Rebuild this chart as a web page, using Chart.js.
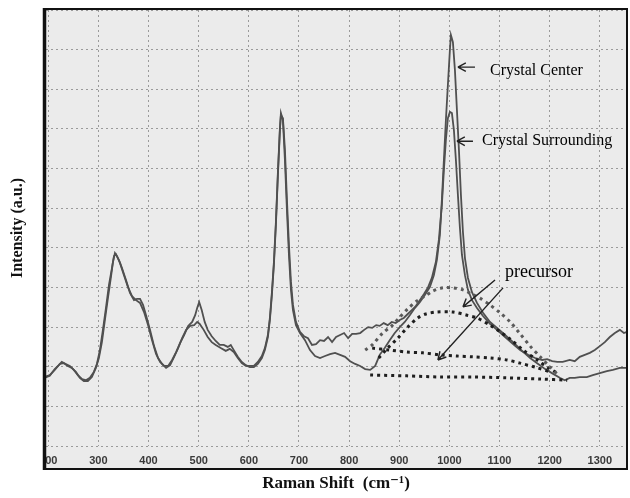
<!DOCTYPE html>
<html>
<head>
<meta charset="utf-8">
<script src="https://cdn.jsdelivr.net/npm/chart.js"></script>
<style>
  html, body { margin: 0; padding: 0; background: #fff; }
  #wrap { width: 630px; height: 498px; position: relative; }
</style>
</head>
<body>
<div id="wrap"><canvas id="raman"></canvas></div>
<script>
// Raman shift in cm-1, intensity in a.u. (one unit = one grid row)
const xTicks = [200, 300, 400, 500, 600, 700, 800, 900, 1000, 1100, 1200, 1300];

const centerShift = [193,203,213,223,231,239,247,255,263,271,279,287,295,301,307,313,319,325,329,333,337,343,351,359,367,375,383,391,399,407,415,423,431,439,447,455,463,471,479,487,493,497,501,506,512,518,526,534,542,550,558,564,570,578,586,594,602,610,618,626,632,638,642,646,650,654,658,662,664,668,672,676,680,684,688,694,702,712,722,732,742,752,762,772,782,792,802,812,822,832,842,852,861,871,881,891,901,911,921,931,941,951,961,969,975,981,985,989,993,997,1001,1003,1007,1011,1015,1019,1023,1027,1031,1037,1045,1055,1067,1081,1095,1111,1127,1145,1161,1177,1191,1207,1220,1230,1240,1250,1260,1274,1286,1300,1314,1326,1340,1354];
const centerIntensity = [1.74,1.79,1.92,2.07,2.09,2.02,1.97,1.87,1.72,1.64,1.64,1.74,1.97,2.22,2.62,3.18,3.73,4.26,4.64,4.87,4.79,4.62,4.31,4.01,3.78,3.68,3.61,3.38,3.05,2.67,2.32,2.12,2.02,2.02,2.17,2.37,2.60,2.80,3.03,3.13,3.30,3.48,3.63,3.43,3.13,2.93,2.77,2.65,2.55,2.55,2.50,2.55,2.42,2.25,2.12,2.04,1.99,1.99,2.07,2.22,2.42,2.75,3.18,3.81,4.57,5.58,6.84,7.97,8.40,8.22,7.21,5.95,4.82,3.94,3.43,3.05,2.85,2.67,2.42,2.27,2.22,2.27,2.32,2.35,2.30,2.25,2.14,2.07,2.02,1.94,1.92,2.02,2.30,2.47,2.67,2.85,3.00,3.13,3.30,3.48,3.63,3.81,4.01,4.31,4.69,5.32,6.21,7.21,8.22,9.11,9.99,10.37,10.19,9.49,8.48,7.47,6.33,5.40,4.74,4.24,3.88,3.61,3.36,3.13,2.98,2.80,2.62,2.40,2.22,2.07,1.94,1.82,1.72,1.66,1.72,1.72,1.74,1.74,1.79,1.84,1.89,1.92,1.97,1.97];

const surroundShift = [193,203,213,221,227,235,243,251,259,267,275,283,291,297,303,309,315,321,327,331,335,341,347,355,363,371,377,383,389,395,403,411,419,427,435,443,451,459,467,475,483,491,497,502,510,518,526,534,544,554,562,570,578,586,594,602,610,618,626,632,638,642,646,650,654,658,662,664,668,672,676,680,684,688,694,702,710,718,726,734,742,750,758,766,774,782,790,798,806,814,822,830,838,846,854,861,869,877,885,893,901,909,917,925,933,941,949,957,965,973,979,985,989,993,997,1001,1005,1009,1013,1017,1021,1025,1031,1037,1045,1055,1067,1081,1095,1111,1127,1141,1157,1171,1185,1195,1205,1215,1226,1240,1250,1260,1270,1280,1290,1300,1310,1320,1330,1340,1348,1354];
const surroundIntensity = [1.72,1.77,1.94,2.04,2.12,2.07,2.02,1.92,1.79,1.69,1.66,1.72,1.87,2.07,2.42,2.93,3.48,4.06,4.49,4.79,4.84,4.69,4.49,4.19,3.86,3.68,3.71,3.71,3.56,3.30,2.93,2.52,2.22,2.07,1.97,2.04,2.25,2.47,2.72,2.93,3.03,3.05,3.13,3.08,2.93,2.75,2.62,2.55,2.47,2.40,2.45,2.37,2.22,2.09,2.02,2.02,2.02,2.12,2.27,2.47,2.80,3.23,3.88,4.64,5.65,6.91,8.02,8.35,8.27,7.47,6.21,5.07,4.14,3.56,3.13,2.88,2.77,2.72,2.55,2.57,2.67,2.65,2.75,2.62,2.75,2.80,2.85,2.72,2.83,2.83,2.85,2.93,3.00,2.98,3.05,3.03,3.10,3.05,3.13,3.10,3.18,3.23,3.33,3.43,3.53,3.68,3.83,3.99,4.24,4.64,5.20,6.08,6.96,7.72,8.27,8.43,8.40,7.97,7.21,6.33,5.50,4.82,4.31,3.94,3.68,3.48,3.28,3.08,2.93,2.75,2.57,2.42,2.30,2.22,2.17,2.19,2.14,2.12,2.12,2.17,2.14,2.25,2.30,2.35,2.42,2.52,2.62,2.75,2.85,2.93,2.85,2.88];

// precursor bands (dotted)
const arc1Shift = [832,846,867,885,901,917,935,951,967,987,1007,1027,1045,1061,1081,1101,1121,1141,1161,1181,1201,1217];
const arc1Intensity = [2.42,2.55,2.85,3.03,3.25,3.46,3.66,3.78,3.91,3.99,3.99,3.94,3.83,3.73,3.56,3.36,3.13,2.83,2.52,2.25,1.99,1.79];
const arc2Shift = [859,877,897,917,937,953,975,1007,1035,1055,1081,1101,1121,1147,1175,1195,1215];
const arc2Intensity = [2.22,2.47,2.72,3.00,3.23,3.33,3.38,3.38,3.30,3.23,3.05,2.88,2.70,2.42,2.17,1.99,1.84];
const flatShift = [846,881,915,947,981,1015,1047,1081,1115,1141,1171,1201];
const flatIntensity = [2.47,2.42,2.37,2.35,2.30,2.27,2.25,2.22,2.17,2.09,1.99,1.87];
const baseShift = [842,915,981,1047,1115,1181,1235];
const baseIntensity = [1.79,1.77,1.74,1.74,1.72,1.69,1.66];

// labels and arrows, in data coordinates
const notes = [
  { text: "Crystal Center", x: 1081, y: 9.46, size: 16 },
  { text: "Crystal Surrounding", x: 1065, y: 7.69, size: 16 },
  { text: "precursor", x: 1111, y: 4.39, size: 18 },
];
const arrows = [
  { from: [1051, 9.56], to: [1017, 9.56] },
  { from: [1047, 7.69], to: [1015, 7.69] },
  { from: [1091, 4.19], to: [1027, 3.51] },
  { from: [1107, 3.99], to: [977, 2.17] },
];

const pairs = (xs, ys) => xs.map((x, i) => ({ x, y: ys[i] }));

function spectrum(label, xs, ys) {
  return {
    label, data: pairs(xs, ys), borderColor: "#505050", borderWidth: 1.8,
    pointRadius: 0, tension: 0, order: 1,
  };
}
function dotted(label, xs, ys, color) {
  return {
    label, data: pairs(xs, ys), borderColor: color, borderWidth: 3,
    borderDash: [3, 4], pointRadius: 0, tension: 0.3, order: 0,
  };
}

const paperPlugin = {
  id: "paper",
  beforeDraw(chart) {
    const { ctx, chartArea: a } = chart;
    ctx.save();
    ctx.fillStyle = "#fff";
    ctx.fillRect(0, 0, chart.width, chart.height);
    ctx.fillStyle = "#ebebeb";
    ctx.fillRect(a.left, a.top, a.right - a.left, a.bottom + 23 - a.top);
    ctx.restore();
  },
  afterDraw(chart) {
    const { ctx, chartArea: a, scales } = chart;
    const px = (v) => scales.x.getPixelForValue(v);
    const py = (v) => scales.y.getPixelForValue(v);
    ctx.save();
    // hide the part of the first tick label that falls outside the frame
    ctx.fillStyle = "#fff";
    ctx.fillRect(26, a.bottom + 3, a.left - 27, 20);
    // frame
    ctx.strokeStyle = "#111";
    ctx.lineWidth = 2;
    ctx.strokeRect(a.left - 1, a.top - 1, a.right - a.left + 2, a.bottom + 24 - a.top);
    ctx.lineWidth = 3.5;
    ctx.beginPath();
    ctx.moveTo(a.left - 1.5, a.top - 2);
    ctx.lineTo(a.left - 1.5, a.bottom + 24);
    ctx.stroke();

    // annotations
    ctx.fillStyle = "#000";
    ctx.textBaseline = "middle";
    notes.forEach((n) => {
      ctx.font = n.size + "px 'Liberation Serif', 'DejaVu Serif', serif";
      ctx.fillText(n.text, px(n.x), py(n.y));
    });
    ctx.strokeStyle = "#222";
    ctx.lineWidth = 1.4;
    arrows.forEach((ar) => {
      const x0 = px(ar.from[0]), y0 = py(ar.from[1]);
      const x1 = px(ar.to[0]), y1 = py(ar.to[1]);
      const ang = Math.atan2(y1 - y0, x1 - x0);
      ctx.beginPath();
      ctx.moveTo(x0, y0);
      ctx.lineTo(x1, y1);
      [0.5, -0.5].forEach((d) => {
        ctx.moveTo(x1, y1);
        ctx.lineTo(x1 - 9 * Math.cos(ang + d), y1 - 9 * Math.sin(ang + d));
      });
      ctx.stroke();
    });
    ctx.restore();
  },
};

new Chart(document.getElementById("raman"), {
  type: "line",
  data: {
    datasets: [
      spectrum("Crystal Center", centerShift, centerIntensity),
      spectrum("Crystal Surrounding", surroundShift, surroundIntensity),
      dotted("precursor 1", arc1Shift, arc1Intensity, "#5a5a5a"),
      dotted("precursor 2", arc2Shift, arc2Intensity, "#1e1e1e"),
      dotted("precursor 3", flatShift, flatIntensity, "#1e1e1e"),
      dotted("precursor base", baseShift, baseIntensity, "#1e1e1e"),
    ],
  },
  options: {
    responsive: true,
    maintainAspectRatio: false,
    animation: false,
    devicePixelRatio: 1,
    layout: { padding: { top: 10, right: 4, left: 0, bottom: 0 } },
    plugins: { legend: { display: false }, tooltip: { enabled: false } },
    scales: {
      x: {
        type: "linear",
        min: 195.5,
        max: 1352.2,
        afterFit: (scale) => { scale.height = 52; },
        afterBuildTicks: (scale) => { scale.ticks = xTicks.map((v) => ({ value: v })); },
        ticks: {
          autoSkip: false, maxRotation: 0, padding: 8, color: "#3a3a3a",
          font: { family: "'Liberation Sans', Arial, sans-serif", size: 11, weight: "bold" },
          callback: (v) => String(v),
        },
        grid: { color: "#9a9a9a", lineWidth: 1, drawTicks: false },
        border: { display: false, dash: [2, 3] },
        title: {
          display: true, text: "Raman Shift  (cm\u207B\u00B9)", color: "#111",
          font: { family: "'Liberation Serif', 'DejaVu Serif', serif", size: 17, weight: "bold" },
          padding: { top: 0, bottom: 4 },
        },
      },
      y: {
        min: 0,
        max: 11,
        afterFit: (scale) => { scale.width = 46; },
        ticks: { stepSize: 1, display: false },
        grid: { color: "#9a9a9a", lineWidth: 1, drawTicks: false },
        border: { display: false, dash: [2, 3] },
        title: {
          display: true, text: "Intensity (a.u.)", color: "#111",
          font: { family: "'Liberation Serif', 'DejaVu Serif', serif", size: 16, weight: "bold" },
          padding: { top: 8, bottom: 0 },
        },
      },
    },
  },
  plugins: [paperPlugin],
});
</script>
</body>
</html>
